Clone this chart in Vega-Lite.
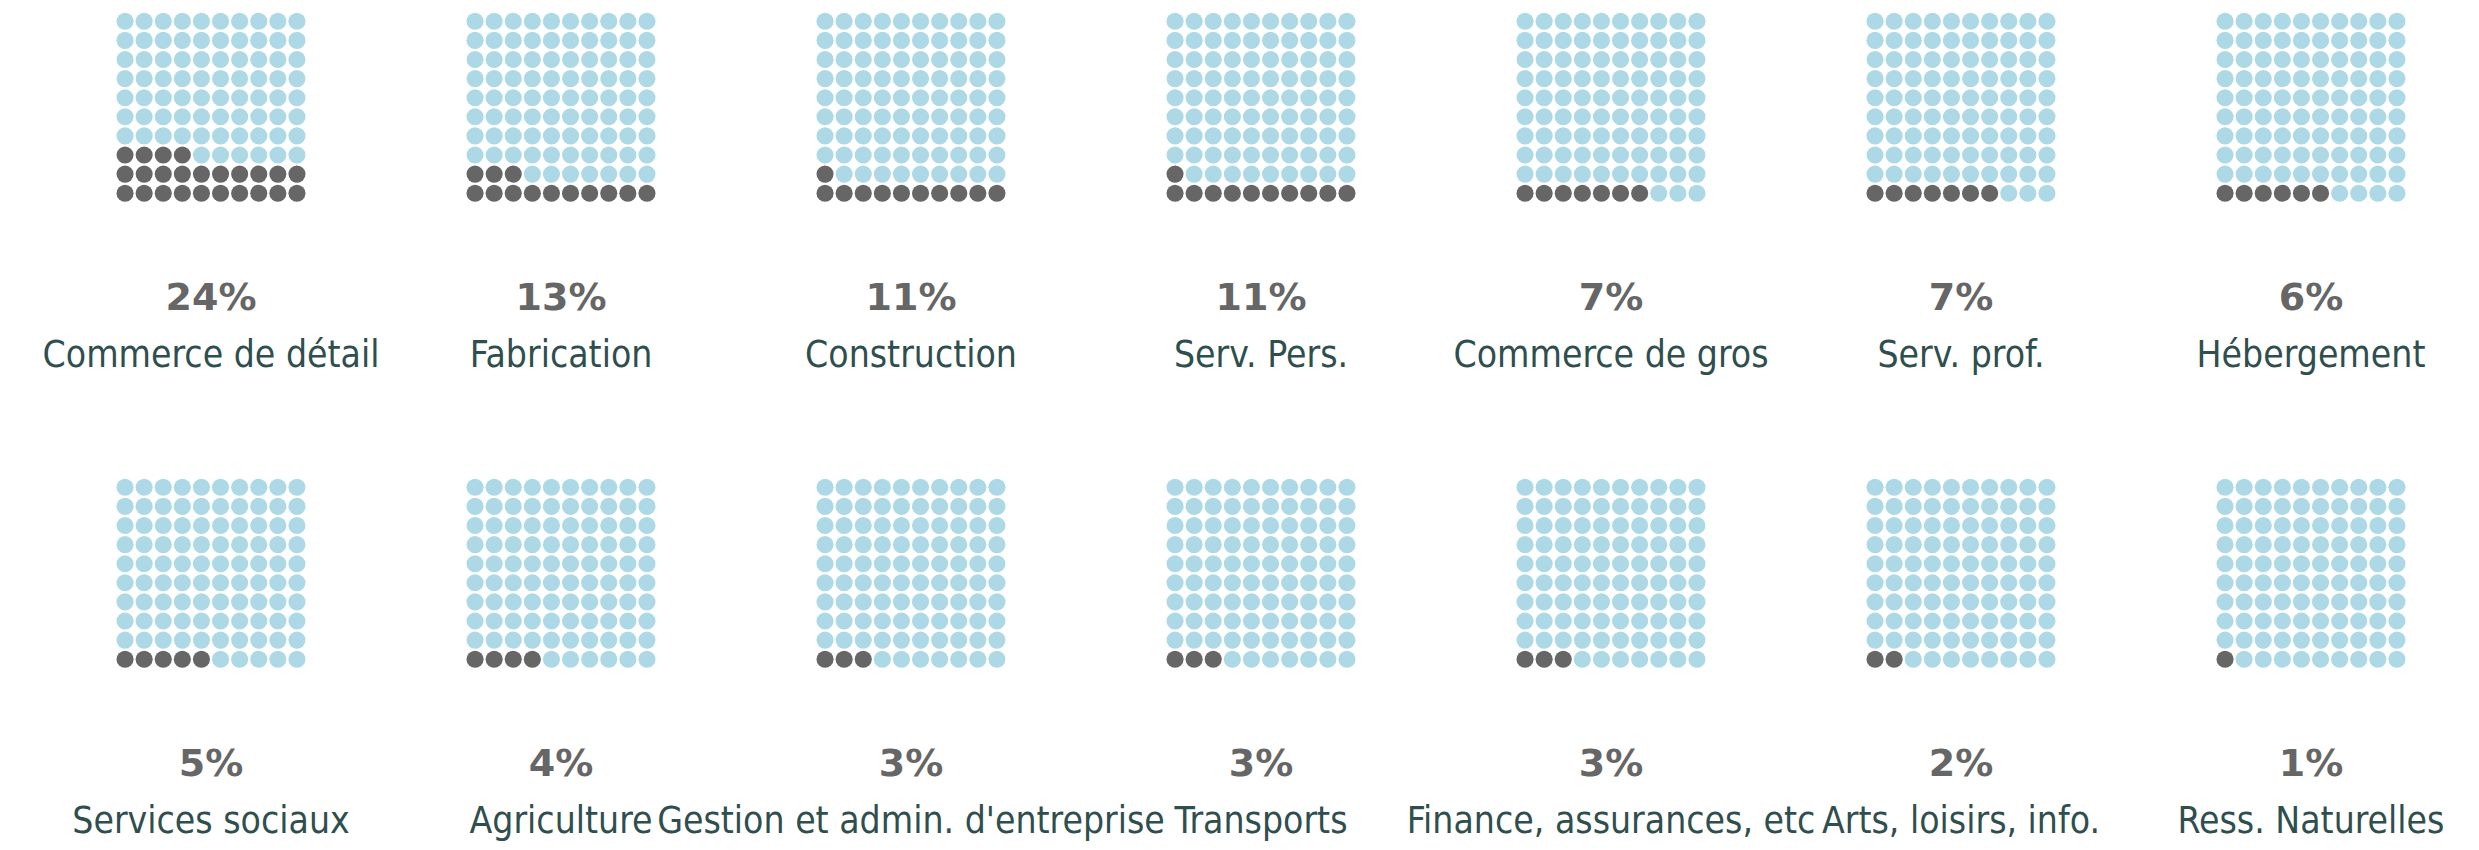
{
  "$schema": "https://vega.github.io/schema/vega-lite/v6.json",
  "padding": {"left": 36, "top": 0, "right": 0, "bottom": 0},
  "bounds": "flush",
  "spacing": 0,
  "columns": 7,
  "config": {"view": {"stroke": null}, "header": {"labels": false, "labelFontSize": 0, "labelPadding": 0, "title": null, "titlePadding": 0}, "headerFacet": {"labels": false, "labelFontSize": 0, "labelPadding": 0, "titlePadding": 0}},
  "data": {"values": [
    {"cat": "Commerce de détail", "share": 0.24, "ord": 1, "gx": [0,1,2,3,4,5,6,7,8,9,0,1,2,3,4,5,6,7,8,9,0,1,2,3,4,5,6,7,8,9,0,1,2,3,4,5,6,7,8,9,0,1,2,3,4,5,6,7,8,9,0,1,2,3,4,5,6,7,8,9,0,1,2,3,4,5,6,7,8,9,0,1,2,3,4,5,6,7,8,9,0,1,2,3,4,5,6,7,8,9,0,1,2,3,4,5,6,7,8,9], "gy": [0,0,0,0,0,0,0,0,0,0,1,1,1,1,1,1,1,1,1,1,2,2,2,2,2,2,2,2,2,2,3,3,3,3,3,3,3,3,3,3,4,4,4,4,4,4,4,4,4,4,5,5,5,5,5,5,5,5,5,5,6,6,6,6,6,6,6,6,6,6,7,7,7,7,7,7,7,7,7,7,8,8,8,8,8,8,8,8,8,8,9,9,9,9,9,9,9,9,9,9]},
    {"cat": "Fabrication", "share": 0.13, "ord": 2, "gx": [0,1,2,3,4,5,6,7,8,9,0,1,2,3,4,5,6,7,8,9,0,1,2,3,4,5,6,7,8,9,0,1,2,3,4,5,6,7,8,9,0,1,2,3,4,5,6,7,8,9,0,1,2,3,4,5,6,7,8,9,0,1,2,3,4,5,6,7,8,9,0,1,2,3,4,5,6,7,8,9,0,1,2,3,4,5,6,7,8,9,0,1,2,3,4,5,6,7,8,9], "gy": [0,0,0,0,0,0,0,0,0,0,1,1,1,1,1,1,1,1,1,1,2,2,2,2,2,2,2,2,2,2,3,3,3,3,3,3,3,3,3,3,4,4,4,4,4,4,4,4,4,4,5,5,5,5,5,5,5,5,5,5,6,6,6,6,6,6,6,6,6,6,7,7,7,7,7,7,7,7,7,7,8,8,8,8,8,8,8,8,8,8,9,9,9,9,9,9,9,9,9,9]},
    {"cat": "Construction", "share": 0.11, "ord": 3, "gx": [0,1,2,3,4,5,6,7,8,9,0,1,2,3,4,5,6,7,8,9,0,1,2,3,4,5,6,7,8,9,0,1,2,3,4,5,6,7,8,9,0,1,2,3,4,5,6,7,8,9,0,1,2,3,4,5,6,7,8,9,0,1,2,3,4,5,6,7,8,9,0,1,2,3,4,5,6,7,8,9,0,1,2,3,4,5,6,7,8,9,0,1,2,3,4,5,6,7,8,9], "gy": [0,0,0,0,0,0,0,0,0,0,1,1,1,1,1,1,1,1,1,1,2,2,2,2,2,2,2,2,2,2,3,3,3,3,3,3,3,3,3,3,4,4,4,4,4,4,4,4,4,4,5,5,5,5,5,5,5,5,5,5,6,6,6,6,6,6,6,6,6,6,7,7,7,7,7,7,7,7,7,7,8,8,8,8,8,8,8,8,8,8,9,9,9,9,9,9,9,9,9,9]},
    {"cat": "Serv. Pers.", "share": 0.11, "ord": 4, "gx": [0,1,2,3,4,5,6,7,8,9,0,1,2,3,4,5,6,7,8,9,0,1,2,3,4,5,6,7,8,9,0,1,2,3,4,5,6,7,8,9,0,1,2,3,4,5,6,7,8,9,0,1,2,3,4,5,6,7,8,9,0,1,2,3,4,5,6,7,8,9,0,1,2,3,4,5,6,7,8,9,0,1,2,3,4,5,6,7,8,9,0,1,2,3,4,5,6,7,8,9], "gy": [0,0,0,0,0,0,0,0,0,0,1,1,1,1,1,1,1,1,1,1,2,2,2,2,2,2,2,2,2,2,3,3,3,3,3,3,3,3,3,3,4,4,4,4,4,4,4,4,4,4,5,5,5,5,5,5,5,5,5,5,6,6,6,6,6,6,6,6,6,6,7,7,7,7,7,7,7,7,7,7,8,8,8,8,8,8,8,8,8,8,9,9,9,9,9,9,9,9,9,9]},
    {"cat": "Commerce de gros", "share": 0.07, "ord": 5, "gx": [0,1,2,3,4,5,6,7,8,9,0,1,2,3,4,5,6,7,8,9,0,1,2,3,4,5,6,7,8,9,0,1,2,3,4,5,6,7,8,9,0,1,2,3,4,5,6,7,8,9,0,1,2,3,4,5,6,7,8,9,0,1,2,3,4,5,6,7,8,9,0,1,2,3,4,5,6,7,8,9,0,1,2,3,4,5,6,7,8,9,0,1,2,3,4,5,6,7,8,9], "gy": [0,0,0,0,0,0,0,0,0,0,1,1,1,1,1,1,1,1,1,1,2,2,2,2,2,2,2,2,2,2,3,3,3,3,3,3,3,3,3,3,4,4,4,4,4,4,4,4,4,4,5,5,5,5,5,5,5,5,5,5,6,6,6,6,6,6,6,6,6,6,7,7,7,7,7,7,7,7,7,7,8,8,8,8,8,8,8,8,8,8,9,9,9,9,9,9,9,9,9,9]},
    {"cat": "Serv. prof.", "share": 0.07, "ord": 6, "gx": [0,1,2,3,4,5,6,7,8,9,0,1,2,3,4,5,6,7,8,9,0,1,2,3,4,5,6,7,8,9,0,1,2,3,4,5,6,7,8,9,0,1,2,3,4,5,6,7,8,9,0,1,2,3,4,5,6,7,8,9,0,1,2,3,4,5,6,7,8,9,0,1,2,3,4,5,6,7,8,9,0,1,2,3,4,5,6,7,8,9,0,1,2,3,4,5,6,7,8,9], "gy": [0,0,0,0,0,0,0,0,0,0,1,1,1,1,1,1,1,1,1,1,2,2,2,2,2,2,2,2,2,2,3,3,3,3,3,3,3,3,3,3,4,4,4,4,4,4,4,4,4,4,5,5,5,5,5,5,5,5,5,5,6,6,6,6,6,6,6,6,6,6,7,7,7,7,7,7,7,7,7,7,8,8,8,8,8,8,8,8,8,8,9,9,9,9,9,9,9,9,9,9]},
    {"cat": "Hébergement", "share": 0.06, "ord": 7, "gx": [0,1,2,3,4,5,6,7,8,9,0,1,2,3,4,5,6,7,8,9,0,1,2,3,4,5,6,7,8,9,0,1,2,3,4,5,6,7,8,9,0,1,2,3,4,5,6,7,8,9,0,1,2,3,4,5,6,7,8,9,0,1,2,3,4,5,6,7,8,9,0,1,2,3,4,5,6,7,8,9,0,1,2,3,4,5,6,7,8,9,0,1,2,3,4,5,6,7,8,9], "gy": [0,0,0,0,0,0,0,0,0,0,1,1,1,1,1,1,1,1,1,1,2,2,2,2,2,2,2,2,2,2,3,3,3,3,3,3,3,3,3,3,4,4,4,4,4,4,4,4,4,4,5,5,5,5,5,5,5,5,5,5,6,6,6,6,6,6,6,6,6,6,7,7,7,7,7,7,7,7,7,7,8,8,8,8,8,8,8,8,8,8,9,9,9,9,9,9,9,9,9,9]},
    {"cat": "Services sociaux", "share": 0.05, "ord": 8, "gx": [0,1,2,3,4,5,6,7,8,9,0,1,2,3,4,5,6,7,8,9,0,1,2,3,4,5,6,7,8,9,0,1,2,3,4,5,6,7,8,9,0,1,2,3,4,5,6,7,8,9,0,1,2,3,4,5,6,7,8,9,0,1,2,3,4,5,6,7,8,9,0,1,2,3,4,5,6,7,8,9,0,1,2,3,4,5,6,7,8,9,0,1,2,3,4,5,6,7,8,9], "gy": [0,0,0,0,0,0,0,0,0,0,1,1,1,1,1,1,1,1,1,1,2,2,2,2,2,2,2,2,2,2,3,3,3,3,3,3,3,3,3,3,4,4,4,4,4,4,4,4,4,4,5,5,5,5,5,5,5,5,5,5,6,6,6,6,6,6,6,6,6,6,7,7,7,7,7,7,7,7,7,7,8,8,8,8,8,8,8,8,8,8,9,9,9,9,9,9,9,9,9,9]},
    {"cat": "Agriculture", "share": 0.04, "ord": 9, "gx": [0,1,2,3,4,5,6,7,8,9,0,1,2,3,4,5,6,7,8,9,0,1,2,3,4,5,6,7,8,9,0,1,2,3,4,5,6,7,8,9,0,1,2,3,4,5,6,7,8,9,0,1,2,3,4,5,6,7,8,9,0,1,2,3,4,5,6,7,8,9,0,1,2,3,4,5,6,7,8,9,0,1,2,3,4,5,6,7,8,9,0,1,2,3,4,5,6,7,8,9], "gy": [0,0,0,0,0,0,0,0,0,0,1,1,1,1,1,1,1,1,1,1,2,2,2,2,2,2,2,2,2,2,3,3,3,3,3,3,3,3,3,3,4,4,4,4,4,4,4,4,4,4,5,5,5,5,5,5,5,5,5,5,6,6,6,6,6,6,6,6,6,6,7,7,7,7,7,7,7,7,7,7,8,8,8,8,8,8,8,8,8,8,9,9,9,9,9,9,9,9,9,9]},
    {"cat": "Gestion et admin. d'entreprise", "share": 0.03, "ord": 10, "gx": [0,1,2,3,4,5,6,7,8,9,0,1,2,3,4,5,6,7,8,9,0,1,2,3,4,5,6,7,8,9,0,1,2,3,4,5,6,7,8,9,0,1,2,3,4,5,6,7,8,9,0,1,2,3,4,5,6,7,8,9,0,1,2,3,4,5,6,7,8,9,0,1,2,3,4,5,6,7,8,9,0,1,2,3,4,5,6,7,8,9,0,1,2,3,4,5,6,7,8,9], "gy": [0,0,0,0,0,0,0,0,0,0,1,1,1,1,1,1,1,1,1,1,2,2,2,2,2,2,2,2,2,2,3,3,3,3,3,3,3,3,3,3,4,4,4,4,4,4,4,4,4,4,5,5,5,5,5,5,5,5,5,5,6,6,6,6,6,6,6,6,6,6,7,7,7,7,7,7,7,7,7,7,8,8,8,8,8,8,8,8,8,8,9,9,9,9,9,9,9,9,9,9]},
    {"cat": "Transports", "share": 0.03, "ord": 11, "gx": [0,1,2,3,4,5,6,7,8,9,0,1,2,3,4,5,6,7,8,9,0,1,2,3,4,5,6,7,8,9,0,1,2,3,4,5,6,7,8,9,0,1,2,3,4,5,6,7,8,9,0,1,2,3,4,5,6,7,8,9,0,1,2,3,4,5,6,7,8,9,0,1,2,3,4,5,6,7,8,9,0,1,2,3,4,5,6,7,8,9,0,1,2,3,4,5,6,7,8,9], "gy": [0,0,0,0,0,0,0,0,0,0,1,1,1,1,1,1,1,1,1,1,2,2,2,2,2,2,2,2,2,2,3,3,3,3,3,3,3,3,3,3,4,4,4,4,4,4,4,4,4,4,5,5,5,5,5,5,5,5,5,5,6,6,6,6,6,6,6,6,6,6,7,7,7,7,7,7,7,7,7,7,8,8,8,8,8,8,8,8,8,8,9,9,9,9,9,9,9,9,9,9]},
    {"cat": "Finance, assurances, etc", "share": 0.03, "ord": 12, "gx": [0,1,2,3,4,5,6,7,8,9,0,1,2,3,4,5,6,7,8,9,0,1,2,3,4,5,6,7,8,9,0,1,2,3,4,5,6,7,8,9,0,1,2,3,4,5,6,7,8,9,0,1,2,3,4,5,6,7,8,9,0,1,2,3,4,5,6,7,8,9,0,1,2,3,4,5,6,7,8,9,0,1,2,3,4,5,6,7,8,9,0,1,2,3,4,5,6,7,8,9], "gy": [0,0,0,0,0,0,0,0,0,0,1,1,1,1,1,1,1,1,1,1,2,2,2,2,2,2,2,2,2,2,3,3,3,3,3,3,3,3,3,3,4,4,4,4,4,4,4,4,4,4,5,5,5,5,5,5,5,5,5,5,6,6,6,6,6,6,6,6,6,6,7,7,7,7,7,7,7,7,7,7,8,8,8,8,8,8,8,8,8,8,9,9,9,9,9,9,9,9,9,9]},
    {"cat": "Arts, loisirs, info.", "share": 0.02, "ord": 13, "gx": [0,1,2,3,4,5,6,7,8,9,0,1,2,3,4,5,6,7,8,9,0,1,2,3,4,5,6,7,8,9,0,1,2,3,4,5,6,7,8,9,0,1,2,3,4,5,6,7,8,9,0,1,2,3,4,5,6,7,8,9,0,1,2,3,4,5,6,7,8,9,0,1,2,3,4,5,6,7,8,9,0,1,2,3,4,5,6,7,8,9,0,1,2,3,4,5,6,7,8,9], "gy": [0,0,0,0,0,0,0,0,0,0,1,1,1,1,1,1,1,1,1,1,2,2,2,2,2,2,2,2,2,2,3,3,3,3,3,3,3,3,3,3,4,4,4,4,4,4,4,4,4,4,5,5,5,5,5,5,5,5,5,5,6,6,6,6,6,6,6,6,6,6,7,7,7,7,7,7,7,7,7,7,8,8,8,8,8,8,8,8,8,8,9,9,9,9,9,9,9,9,9,9]},
    {"cat": "Ress. Naturelles", "share": 0.01, "ord": 14, "gx": [0,1,2,3,4,5,6,7,8,9,0,1,2,3,4,5,6,7,8,9,0,1,2,3,4,5,6,7,8,9,0,1,2,3,4,5,6,7,8,9,0,1,2,3,4,5,6,7,8,9,0,1,2,3,4,5,6,7,8,9,0,1,2,3,4,5,6,7,8,9,0,1,2,3,4,5,6,7,8,9,0,1,2,3,4,5,6,7,8,9,0,1,2,3,4,5,6,7,8,9], "gy": [0,0,0,0,0,0,0,0,0,0,1,1,1,1,1,1,1,1,1,1,2,2,2,2,2,2,2,2,2,2,3,3,3,3,3,3,3,3,3,3,4,4,4,4,4,4,4,4,4,4,5,5,5,5,5,5,5,5,5,5,6,6,6,6,6,6,6,6,6,6,7,7,7,7,7,7,7,7,7,7,8,8,8,8,8,8,8,8,8,8,9,9,9,9,9,9,9,9,9,9]}
  ]},
  "transform": [{"flatten": ["gx", "gy"]}],
  "facet": {"field": "cat", "type": "nominal", "sort": {"field": "ord", "op": "min"}, "header": {"labels": false, "labelExpr": "''", "labelFontSize": 0, "labelPadding": 0, "title": null, "titlePadding": 0}, "title": null},
  "spec": {
    "width": 350,
    "height": 466,
    "layer": [
      {
        "mark": {"type": "circle", "size": 292, "opacity": 1},
        "encoding": {
          "x": {"field": "gx", "type": "quantitative", "scale": {"domain": [-4.662, 13.662], "zero": false, "nice": false}, "axis": null},
          "y": {"field": "gy", "type": "quantitative", "scale": {"domain": [-14.283, 10.115], "zero": false, "nice": false}, "axis": null},
          "color": {"condition": {"test": "datum.gx + 10 * datum.gy < round(datum.share * 100)", "value": "#666666"}, "value": "#add8e6"}
        }
      },
      {
        "transform": [{"filter": "datum.gx == 0 && datum.gy == 0"}],
        "mark": {"type": "text", "font": "DejaVu Sans", "fontWeight": "bold", "fontSize": 38, "color": "#666666", "align": "center", "baseline": "alphabetic"},
        "encoding": {
          "x": {"datum": 4.5, "type": "quantitative"},
          "y": {"datum": -6.09, "type": "quantitative"},
          "text": {"field": "share", "type": "quantitative", "format": ".0%"}
        }
      },
      {
        "transform": [{"filter": "datum.gx == 0 && datum.gy == 0"}],
        "mark": {"type": "text", "font": "DejaVu Sans Condensed, DejaVu Sans", "fontSize": 37, "color": "#2f4f4f", "align": "center", "baseline": "alphabetic"},
        "encoding": {
          "x": {"datum": 4.5, "type": "quantitative"},
          "y": {"datum": -9.1, "type": "quantitative"},
          "text": {"field": "cat", "type": "nominal"}
        }
      }
    ]
  }
}
